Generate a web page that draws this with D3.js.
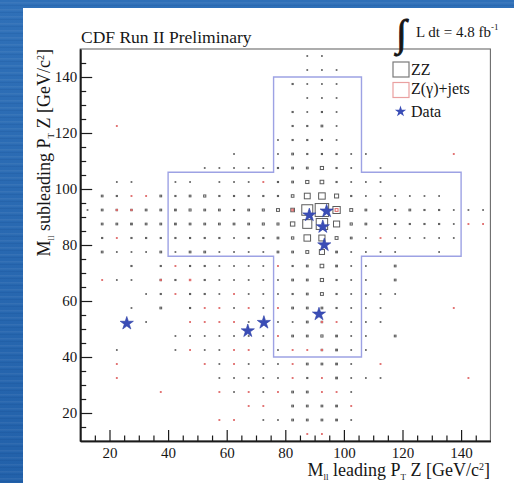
<!DOCTYPE html>
<html>
<head>
<meta charset="utf-8">
<script src="https://cdn.jsdelivr.net/npm/d3@7/dist/d3.min.js"></script>
<style>
  html, body { margin: 0; padding: 0; background: #2a69b2; }
  svg { display: block; }
  text { font-family: "Liberation Serif", "Times New Roman", serif; fill: #161616; }
</style>
</head>
<body>
<svg id="chart" width="514" height="483"></svg>
<script>
// Expected ZZ events per 5x5 GeV/c^2 cell: [M_ll leading, M_ll subleading, events]
const zzBins = [
  [87.5,147.5,.05],[92.5,147.5,.05],
  [87.5,142.5,.05],[92.5,142.5,.05],[97.5,142.5,.05],
  [82.5,137.5,.08],[87.5,137.5,.05],[92.5,137.5,.05],[97.5,137.5,.05],
  [87.5,132.5,.05],[92.5,132.5,.05],[97.5,132.5,.05],
  [82.5,127.5,.08],[87.5,127.5,.05],[92.5,127.5,.08],[97.5,127.5,.05],
  [82.5,122.5,.08],[87.5,122.5,.08],[92.5,122.5,.12],[97.5,122.5,.05],
  [77.5,117.5,.05],[82.5,117.5,.08],[87.5,117.5,.08],[92.5,117.5,.08],[97.5,117.5,.05],
  [62.5,112.5,.05],[77.5,112.5,.05],[82.5,112.5,.12],[87.5,112.5,.08],[92.5,112.5,.08],[97.5,112.5,.08],[102.5,112.5,.05],[107.5,112.5,.05],
  [52.5,107.5,.05],[57.5,107.5,.05],[62.5,107.5,.05],[67.5,107.5,.05],[72.5,107.5,.05],[77.5,107.5,.08],[82.5,107.5,.12],[87.5,107.5,.12],[92.5,107.5,.22],[97.5,107.5,.08],[102.5,107.5,.05],[112.5,107.5,.05],
  [22.5,102.5,.05],[27.5,102.5,.05],[42.5,102.5,.05],[47.5,102.5,.05],[57.5,102.5,.05],[62.5,102.5,.05],[67.5,102.5,.05],[77.5,102.5,.08],[82.5,102.5,.12],[87.5,102.5,.22],[92.5,102.5,.25],[97.5,102.5,.08],[102.5,102.5,.05],[107.5,102.5,.05],[112.5,102.5,.05],
  [17.5,97.5,.12],[22.5,97.5,.08],[37.5,97.5,.12],[42.5,97.5,.08],[47.5,97.5,.12],[52.5,97.5,.15],[57.5,97.5,.08],[62.5,97.5,.08],[67.5,97.5,.08],[72.5,97.5,.08],[77.5,97.5,.08],[82.5,97.5,.18],[87.5,97.5,.40],[92.5,97.5,.45],[97.5,97.5,.28],[102.5,97.5,.08],[107.5,97.5,.05],[112.5,97.5,.05],[117.5,97.5,.05],[122.5,97.5,.05],[127.5,97.5,.05],[132.5,97.5,.05],
  [12.5,92.5,.05],[17.5,92.5,.12],[22.5,92.5,.10],[27.5,92.5,.10],[32.5,92.5,.12],[37.5,92.5,.12],[42.5,92.5,.12],[47.5,92.5,.14],[52.5,92.5,.12],[57.5,92.5,.12],[62.5,92.5,.08],[67.5,92.5,.12],[72.5,92.5,.14],[77.5,92.5,.20],[82.5,92.5,.25],[87.5,92.5,.75],[92.5,92.5,.92],[97.5,92.5,.50],[102.5,92.5,.20],[107.5,92.5,.12],[112.5,92.5,.08],[117.5,92.5,.08],[122.5,92.5,.12],[127.5,92.5,.08],[132.5,92.5,.08],[137.5,92.5,.05],[142.5,92.5,.05],[147.5,92.5,.05],
  [17.5,87.5,.12],[22.5,87.5,.12],[27.5,87.5,.12],[32.5,87.5,.12],[37.5,87.5,.12],[42.5,87.5,.12],[47.5,87.5,.12],[52.5,87.5,.12],[57.5,87.5,.12],[62.5,87.5,.12],[67.5,87.5,.12],[72.5,87.5,.14],[77.5,87.5,.14],[82.5,87.5,.30],[87.5,87.5,.62],[92.5,87.5,.78],[97.5,87.5,.42],[102.5,87.5,.15],[107.5,87.5,.12],[112.5,87.5,.08],[117.5,87.5,.08],[122.5,87.5,.08],[127.5,87.5,.08],[132.5,87.5,.08],[137.5,87.5,.05],
  [17.5,82.5,.08],[27.5,82.5,.08],[32.5,82.5,.08],[37.5,82.5,.08],[42.5,82.5,.08],[47.5,82.5,.08],[52.5,82.5,.08],[57.5,82.5,.08],[62.5,82.5,.05],[67.5,82.5,.08],[72.5,82.5,.08],[77.5,82.5,.12],[82.5,82.5,.16],[87.5,82.5,.45],[92.5,82.5,.42],[97.5,82.5,.20],[102.5,82.5,.12],[107.5,82.5,.05],[117.5,82.5,.05],[122.5,82.5,.05],[127.5,82.5,.05],[132.5,82.5,.05],[137.5,82.5,.05],
  [17.5,77.5,.12],[22.5,77.5,.05],[27.5,77.5,.05],[32.5,77.5,.05],[37.5,77.5,.12],[42.5,77.5,.05],[47.5,77.5,.12],[52.5,77.5,.12],[57.5,77.5,.05],[62.5,77.5,.05],[67.5,77.5,.05],[72.5,77.5,.05],[77.5,77.5,.12],[82.5,77.5,.12],[87.5,77.5,.20],[92.5,77.5,.35],[97.5,77.5,.12],[102.5,77.5,.05],[107.5,77.5,.05],[112.5,77.5,.05],[117.5,77.5,.05],[132.5,77.5,.05],
  [27.5,72.5,.08],[37.5,72.5,.08],[47.5,72.5,.08],[52.5,72.5,.08],[57.5,72.5,.05],[62.5,72.5,.05],[67.5,72.5,.05],[72.5,72.5,.05],[82.5,72.5,.08],[87.5,72.5,.12],[92.5,72.5,.25],[97.5,72.5,.12],[102.5,72.5,.05],[107.5,72.5,.05],[117.5,72.5,.12],
  [22.5,67.5,.05],[27.5,67.5,.05],[37.5,67.5,.10],[42.5,67.5,.08],[52.5,67.5,.08],[57.5,67.5,.05],[62.5,67.5,.05],[67.5,67.5,.05],[72.5,67.5,.05],[77.5,67.5,.05],[82.5,67.5,.12],[87.5,67.5,.12],[92.5,67.5,.22],[97.5,67.5,.08],[102.5,67.5,.05],[107.5,67.5,.05],[117.5,67.5,.12],
  [32.5,62.5,.05],[37.5,62.5,.08],[47.5,62.5,.08],[52.5,62.5,.08],[57.5,62.5,.05],[67.5,62.5,.05],[72.5,62.5,.05],[77.5,62.5,.05],[82.5,62.5,.08],[87.5,62.5,.12],[92.5,62.5,.20],[97.5,62.5,.08],[102.5,62.5,.05],[107.5,62.5,.05],[112.5,62.5,.05],[117.5,62.5,.05],
  [27.5,57.5,.05],[37.5,57.5,.12],[47.5,57.5,.08],[62.5,57.5,.05],[72.5,57.5,.05],[82.5,57.5,.12],[87.5,57.5,.12],[92.5,57.5,.12],[97.5,57.5,.08],[102.5,57.5,.05],[107.5,57.5,.05],[112.5,57.5,.05],
  [32.5,52.5,.05],[67.5,52.5,.05],[72.5,52.5,.05],[77.5,52.5,.05],[82.5,52.5,.05],[87.5,52.5,.12],[92.5,52.5,.10],[102.5,52.5,.05],[107.5,52.5,.05],[112.5,52.5,.05],
  [42.5,47.5,.05],[47.5,47.5,.05],[52.5,47.5,.05],[57.5,47.5,.05],[62.5,47.5,.05],[67.5,47.5,.05],[72.5,47.5,.05],[82.5,47.5,.12],[87.5,47.5,.12],[92.5,47.5,.15],[97.5,47.5,.12],[102.5,47.5,.05],[107.5,47.5,.05],[117.5,47.5,.12],
  [22.5,42.5,.05],[42.5,42.5,.05],[52.5,42.5,.05],[57.5,42.5,.05],[72.5,42.5,.05],[77.5,42.5,.05],[92.5,42.5,.10],[97.5,42.5,.12],[102.5,42.5,.05],[107.5,42.5,.05],
  [57.5,37.5,.05],[67.5,37.5,.05],[72.5,37.5,.05],[77.5,37.5,.05],[87.5,37.5,.12],[92.5,37.5,.12],[97.5,37.5,.12],[102.5,37.5,.05],
  [57.5,32.5,.05],[62.5,32.5,.05],[67.5,32.5,.05],[72.5,32.5,.05],[77.5,32.5,.05],[87.5,32.5,.08],[97.5,32.5,.12],[102.5,32.5,.05],[107.5,32.5,.05],[112.5,32.5,.05],
  [62.5,27.5,.05],[72.5,27.5,.05],[82.5,27.5,.12],[87.5,27.5,.12],[102.5,27.5,.05],
  [82.5,22.5,.12],[87.5,22.5,.12],[92.5,22.5,.12],[97.5,22.5,.12],
  [72.5,17.5,.05],[77.5,17.5,.05],[82.5,17.5,.12],[87.5,17.5,.12],[92.5,17.5,.12],[97.5,17.5,.12],[102.5,17.5,.05]
];

// Expected Z(gamma)+jets events per cell
const zjetsBins = [
  [22.5,122.5,.06],[137.5,112.5,.06],[72.5,102.5,.06],
  [27.5,97.5,.06],[32.5,97.5,.06],
  [22.5,92.5,.08],[27.5,92.5,.08],[82.5,92.5,.12],[97.5,92.5,.20],
  [142.5,87.5,.06],[147.5,87.5,.06],
  [22.5,82.5,.06],[112.5,82.5,.06],
  [42.5,72.5,.06],[77.5,72.5,.06],
  [17.5,67.5,.06],[37.5,67.5,.08],[47.5,67.5,.10],
  [42.5,62.5,.06],[62.5,62.5,.06],
  [52.5,57.5,.06],[57.5,57.5,.06],[67.5,57.5,.06],[77.5,57.5,.06],[137.5,57.5,.06],
  [47.5,52.5,.06],[52.5,52.5,.06],[57.5,52.5,.06],[62.5,52.5,.06],[92.5,52.5,.08],[97.5,52.5,.06],
  [77.5,47.5,.06],
  [47.5,42.5,.06],[62.5,42.5,.06],[67.5,42.5,.06],[82.5,42.5,.06],[87.5,42.5,.06],[92.5,42.5,.08],
  [22.5,37.5,.06],[52.5,37.5,.06],[62.5,37.5,.06],[82.5,37.5,.06],[112.5,37.5,.06],
  [22.5,32.5,.06],[82.5,32.5,.06],[92.5,32.5,.06],[142.5,32.5,.06],
  [37.5,27.5,.06],[57.5,27.5,.06],[67.5,27.5,.06],[77.5,27.5,.06],[92.5,27.5,.06],[97.5,27.5,.06],
  [67.5,22.5,.06],[72.5,22.5,.06],[102.5,22.5,.06],
  [57.5,17.5,.06],[62.5,17.5,.06],
  [87.5,12.5,.06],[92.5,12.5,.06]
];

// Observed candidate events: [M_ll leading, M_ll subleading]
const dataEvents = [
  [25.9,52.0],[67.2,49.3],[72.7,52.3],[91.5,55.3],
  [88.2,90.7],[94.1,92.1],[92.8,86.5],[93.3,80.0]
];

// Signal-region outline (cross shape), vertices in GeV/c^2
const signalRegion = [
  [40,76],[40,106],[76,106],[76,140],[106,140],[106,106],
  [140,106],[140,76],[106,76],[106,40],[76,40],[76,76]
];

const axisDomain = [10, 150];
const majorTicks = [20, 40, 60, 80, 100, 120, 140];
const minorTicks = [15,25,30,35,45,50,55,65,70,75,85,90,95,105,110,115,125,130,135,145];

const binHalfWidth = 2.5;   // GeV/c^2
const boxFullContent = 1.0; // cell content that fills a whole cell

const svg = d3.select("#chart");

// blue slide background with faint horizontal streaks
const defs = svg.append("defs");
const grad = defs.append("linearGradient").attr("id", "bg").attr("x1", 0).attr("y1", 0).attr("x2", 0).attr("y2", 1);
grad.append("stop").attr("offset", "0%").attr("stop-color", "#2f70b8");
grad.append("stop").attr("offset", "100%").attr("stop-color", "#2261aa");
svg.append("rect").attr("width", 514).attr("height", 483).attr("fill", "url(#bg)");
const streaks = defs.append("pattern").attr("id", "streaks").attr("patternUnits", "userSpaceOnUse")
  .attr("width", 514).attr("height", 7);
streaks.append("rect").attr("y", 2).attr("width", 514).attr("height", 1.5).attr("fill", "#ffffff").attr("opacity", 0.06);
streaks.append("rect").attr("y", 5).attr("width", 514).attr("height", 1).attr("fill", "#0a3a80").attr("opacity", 0.12);
svg.append("rect").attr("width", 514).attr("height", 483).attr("fill", "url(#streaks)");

// white canvas
svg.append("rect").attr("x", 23).attr("y", 8).attr("width", 491).attr("height", 475).attr("fill", "#ffffff");

const x = d3.scaleLinear().domain(axisDomain).range([80.2, 490.4]);
const y = d3.scaleLinear().domain(axisDomain).range([441, 49]);

// frame
svg.append("rect")
  .attr("x", x(10)).attr("y", y(150))
  .attr("width", x(150) - x(10)).attr("height", y(10) - y(150))
  .attr("fill", "none").attr("stroke", "#6a6a6a").attr("stroke-width", 1.1);

// box-histogram cells
function drawBoxes(bins, color, cls) {
  const f = d => binHalfWidth * d[2] / boxFullContent;
  svg.append("g").attr("class", cls)
    .selectAll("rect")
    .data(bins)
    .join("rect")
    .attr("x", d => x(d[0] - f(d)))
    .attr("y", d => y(d[1] + f(d)))
    .attr("width", d => x(d[0] + f(d)) - x(d[0] - f(d)))
    .attr("height", d => y(d[1] - f(d)) - y(d[1] + f(d)))
    .attr("fill", "none")
    .attr("stroke", color)
    .attr("stroke-width", 1);
}
drawBoxes(zzBins, "#5c5c5c", "zz");
drawBoxes(zjetsBins, "#e06a6a", "zjets");

// signal region
svg.append("path")
  .datum(signalRegion)
  .attr("d", d3.line().x(d => x(d[0])).y(d => y(d[1])).curve(d3.curveLinearClosed))
  .attr("fill", "none")
  .attr("stroke", "#9da2e4")
  .attr("stroke-width", 1.4);

// data stars
const star = d3.symbol().type(d3.symbolStar).size(54);
svg.append("g").selectAll("path")
  .data(dataEvents)
  .join("path")
  .attr("transform", d => `translate(${x(d[0])},${y(d[1])})`)
  .attr("d", star)
  .attr("fill", "#3a4db6")
  .attr("stroke", "#2c3ea6")
  .attr("stroke-width", 0.6);

// axes with inward ticks
const axisG = svg.append("g");
axisG.append("g").attr("transform", `translate(${x(10)},0)`)
  .call(d3.axisLeft(y).tickValues(minorTicks).tickSize(-6).tickSizeOuter(0).tickFormat(""));
axisG.append("g").attr("transform", `translate(${x(10)},0)`)
  .call(d3.axisLeft(y).tickValues(majorTicks).tickSize(-12).tickSizeOuter(0).tickPadding(3));
axisG.append("g").attr("transform", `translate(0,${y(10)})`)
  .call(d3.axisBottom(x).tickValues(minorTicks).tickSize(-5.5).tickSizeOuter(0).tickFormat(""));
axisG.append("g").attr("transform", `translate(0,${y(10)})`)
  .call(d3.axisBottom(x).tickValues(majorTicks).tickSize(-11).tickSizeOuter(0).tickPadding(6));

axisG.selectAll(".domain").attr("stroke", "#1a1a1a").attr("stroke-width", 1.6);
axisG.selectAll(".tick line").attr("stroke", "#1a1a1a").attr("stroke-width", 1.2);
axisG.selectAll(".tick text")
  .attr("font-family", "'Liberation Serif','Times New Roman',serif")
  .attr("font-size", 15).attr("fill", "#161616");

// title
svg.append("text").attr("x", 81).attr("y", 43).attr("font-size", 17.5).text("CDF Run II Preliminary");

// luminosity
svg.append("text").attr("x", 396).attr("y", 46).attr("font-size", 38)
  .attr("font-family", "'DejaVu Serif',serif")
  .attr("stroke", "#161616").attr("stroke-width", 0.9)
  .text("\u222B");
const lumi = svg.append("text").attr("x", 416).attr("y", 37).attr("font-size", 15);
lumi.append("tspan").text("L dt = 4.8 fb");
lumi.append("tspan").attr("dy", -7).attr("font-size", 9).text("-1");

// axis titles (right-aligned to the axis ends)
function axisTitle(sel, word) {
  sel.append("tspan").text("M");
  sel.append("tspan").attr("dy", 4).attr("font-size", 9).text("ll");
  sel.append("tspan").attr("dy", -4).text(` ${word} P`);
  sel.append("tspan").attr("dy", 4).attr("font-size", 9).text("T");
  sel.append("tspan").attr("dy", -4).text(" Z [GeV/c");
  sel.append("tspan").attr("dy", -6).attr("font-size", 10).text("2");
  sel.append("tspan").attr("dy", 6).text("]");
}
axisTitle(svg.append("text").attr("x", 490).attr("y", 476).attr("font-size", 18).attr("text-anchor", "end"), "leading");
axisTitle(svg.append("text").attr("transform", "translate(50,49) rotate(-90)").attr("font-size", 18).attr("text-anchor", "end"), "subleading");

// legend
const legend = svg.append("g");
legend.append("rect").attr("x", 393).attr("y", 62).attr("width", 16).attr("height", 15)
  .attr("fill", "none").attr("stroke", "#7a7a7a").attr("stroke-width", 1.2);
legend.append("text").attr("x", 411).attr("y", 75).attr("font-size", 16).text("ZZ");
legend.append("rect").attr("x", 393).attr("y", 82.5).attr("width", 16).attr("height", 15)
  .attr("fill", "none").attr("stroke", "#eaa0a0").attr("stroke-width", 1.2);
legend.append("text").attr("x", 411).attr("y", 94).attr("font-size", 16).text("Z(\u03B3)+jets");
legend.append("path").attr("transform", "translate(400.5,111.5)").attr("d", d3.symbol().type(d3.symbolStar).size(40))
  .attr("fill", "#3a4db6");
legend.append("text").attr("x", 411).attr("y", 117).attr("font-size", 16).text("Data");
</script>
</body>
</html>
